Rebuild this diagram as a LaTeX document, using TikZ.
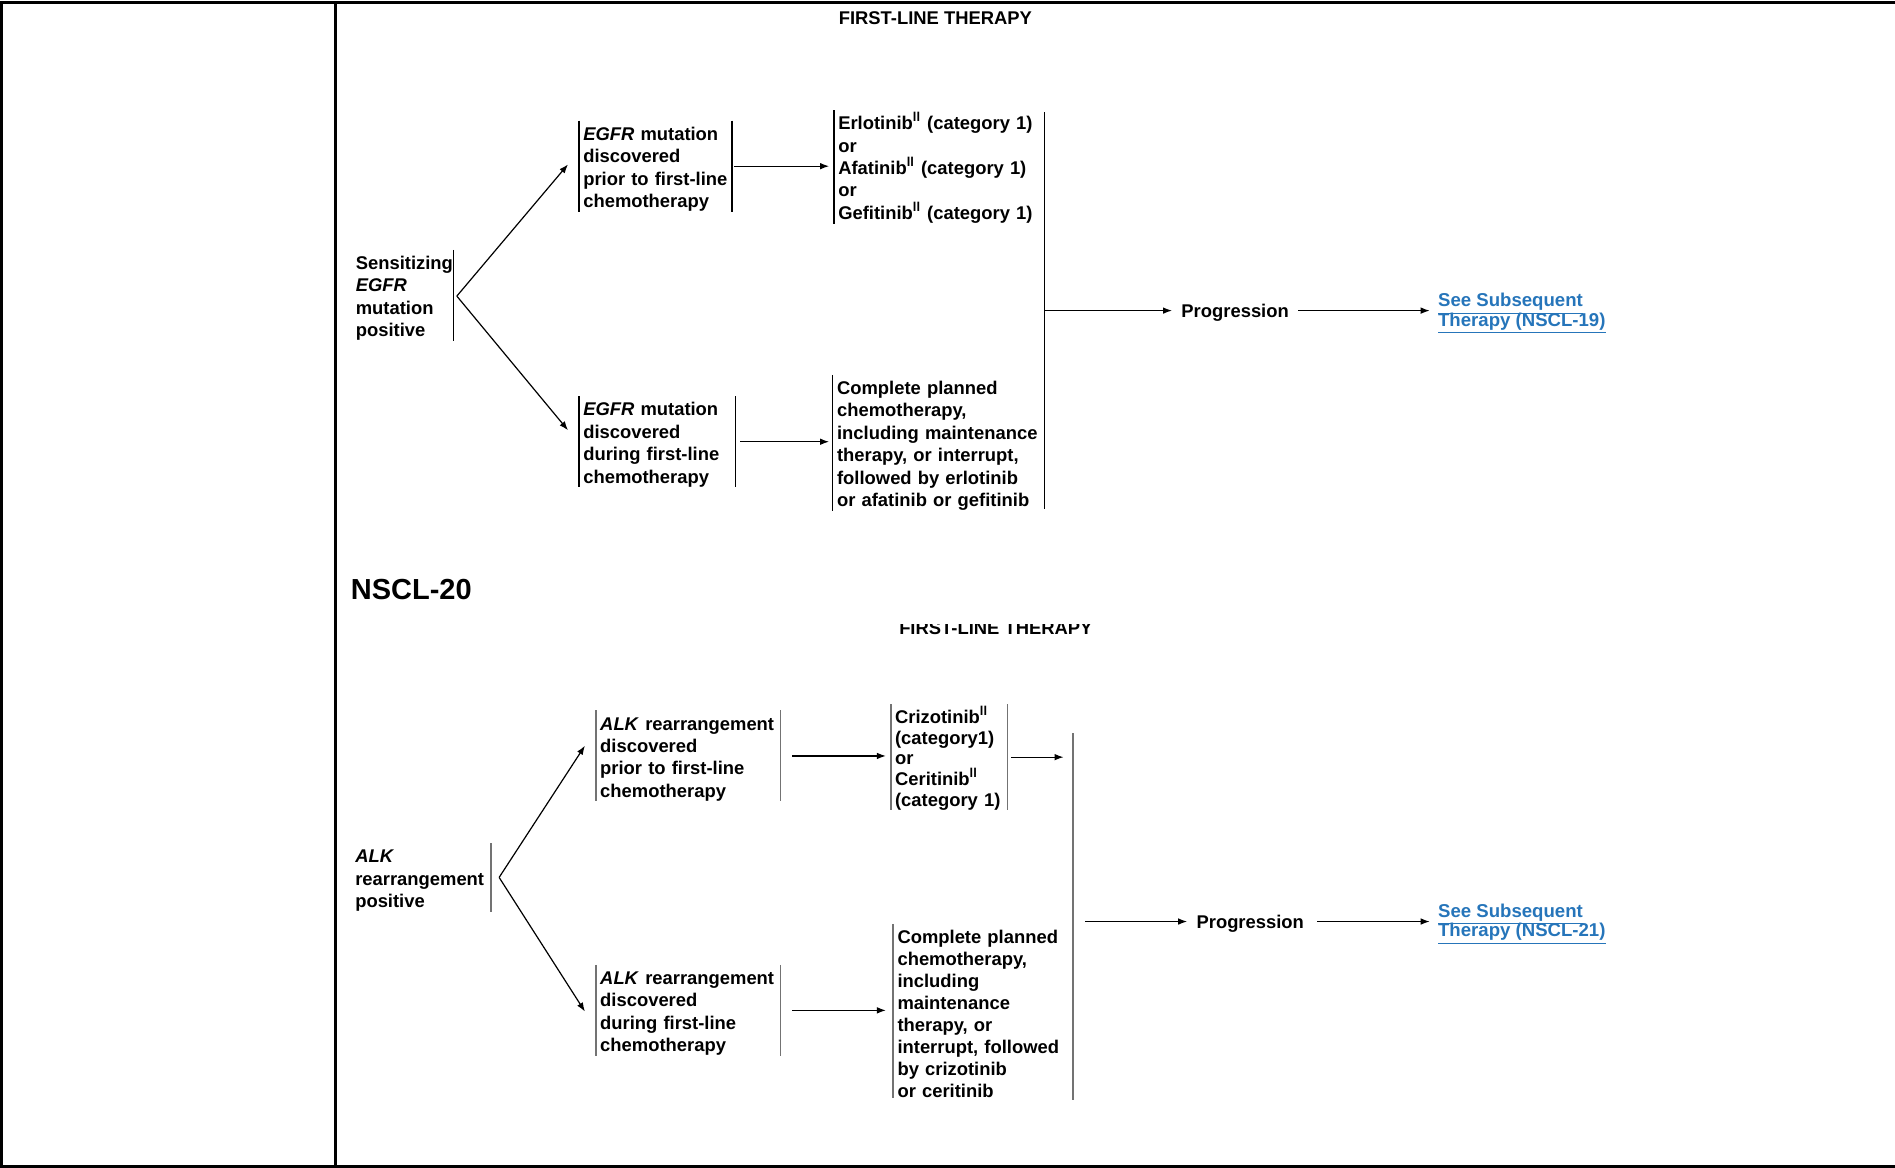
\documentclass[tikz,border=0pt]{standalone}
\usepackage{fontspec}
\setmainfont{Liberation Sans}
\usetikzlibrary{arrows.meta}
\definecolor{nsclLink}{RGB}{38,117,186}

\begin{document}
\begin{tikzpicture}
% NSCL-20 flow chart, drawn in screen units
\def\pxsz{0.6043pt}
\providecommand{\nsclFrameWidth}{1.5pt}
\providecommand{\nsclBarWidth}{0.7pt}
\providecommand{\nsclLineWidth}{0.6pt}
\begin{scope}[x=\pxsz, y=-\pxsz, line cap=butt,
  txt/.style={align=left, inner xsep=2pt, inner ysep=0pt, font=\bfseries\fontsize{9.2}{11.2}\selectfont,
    execute at begin node={\rule{0pt}{9.6pt}}},
  barline/.style={draw=black, line width=\nsclBarWidth},
  lbar/.style={append after command={(\tikzlastnode.north west) edge[barline] (\tikzlastnode.south west)}},
  rbar/.style={append after command={(\tikzlastnode.north east) edge[barline] (\tikzlastnode.south east)}},
  conn/.style={-{Latex[length=4.5pt,width=3.3pt]}, line width=\nsclLineWidth},
  head/.style={inner sep=0pt, font=\bfseries\fontsize{9.2}{10}\selectfont},
  prog/.style={inner xsep=4.5pt, inner ysep=0pt, text height=8.5pt, text depth=2pt, font=\bfseries\fontsize{9.2}{11.2}\selectfont},
  link/.style={align=left, inner xsep=4pt, inner ysep=0pt, text=nsclLink,
    font=\bfseries\fontsize{9.3}{9.7}\selectfont,
    execute at begin node={\setlength{\lineskiplimit}{-10pt}}}]
  \useasboundingbox (0,0) rectangle (1568,966);
  % Table frame
  \draw[line width=\nsclFrameWidth] (0,2) -- (1568,2);
  \draw[line width=\nsclFrameWidth] (0,965) -- (1568,965);
  \draw[line width=\nsclFrameWidth] (1,2) -- (1,965);
  \draw[line width=\nsclFrameWidth] (278,2) -- (278,965);

  % EGFR part
  \node[head] (headA) at (774,15) {FIRST-LINE THERAPY};
  \node[txt, rbar, anchor=east, inner xsep=1pt, text width=47.5pt, minimum height=44.1pt] (sens) at (375,244.5)
    {Sensitizing\\\textit{EGFR}\\mutation\\positive};
  \node[txt, lbar, rbar, anchor=west, text width=72.1pt, minimum height=44.1pt] (egfrA) at (479,137.5)
    {\textit{EGFR} mutation\\discovered\\prior to first-line\\chemotherapy};
  \node[txt, lbar, rbar, anchor=west, text width=74pt, minimum height=42.9pt] (egfrB) at (479,365.5)
    {\textit{EGFR} mutation\\discovered\\during first-line\\chemotherapy};
  \node[txt, lbar, anchor=west, text width=100pt, minimum height=54.4pt] (drugA) at (690,138)
    {Erlotinib\textsuperscript{ll} (category 1)\\or\\Afatinib\textsuperscript{ll} (category 1)\\or\\Gefitinib\textsuperscript{ll} (category 1)};
  \node[txt, lbar, anchor=west, text width=102pt, minimum height=65.9pt] (compA) at (689,366.5)
    {Complete planned\\chemotherapy,\\including maintenance\\therapy, or interrupt,\\followed by erlotinib\\or afatinib or gefitinib};
  \node[lbar, anchor=west, inner sep=0pt, minimum height=198.2pt] (trunkA) at (864,257) {};
  \node[prog] (progA) at (1022,257) {Progression};
  \node[link, anchor=west] (linkA) at (1183,259.5)
    {\underline{See Subsequent}\\\underline{Therapy (NSCL-19)}};

  \draw[conn] ([shift={(3,0.5)}]sens.east) -- ([shift={(-9,-1.5)}]egfrA.west);
  \draw[conn] ([shift={(3,0.5)}]sens.east) -- ([shift={(-9,-9.5)}]egfrB.west);
  \draw[conn, shorten <=1.2pt, shorten >=2.4pt] (egfrA.east) -- (egfrA.east -| drugA.west);
  \draw[conn, shorten <=2.4pt, shorten >=1.8pt] (egfrB.east) -- (egfrB.east -| compA.west);
  \draw[conn] (trunkA.west) -- (progA.west);
  \draw[conn] (progA.east) -- (progA.east -| linkA.west);

  \node[anchor=west, inner sep=0pt, font=\bfseries\fontsize{14.5}{17}\selectfont] (pageid) at (290,488) {NSCL-20};

  % ALK part
  \begin{scope}
    \clip (700,516.5) rectangle (950,535);
    \node[head] (headB) at (824,519.5) {FIRST-LINE THERAPY};
  \end{scope}
  \begin{scope}[barline/.append style={draw=black!55, line width=0.9pt}]
    \node[txt, rbar, anchor=east, text width=65.5pt, minimum height=32.6pt] (alk) at (406,726)
      {\textit{ALK}\\rearrangement\\positive};
    \node[txt, lbar, rbar, anchor=west, text width=87.9pt, minimum height=44.1pt] (alkA) at (493,625.5)
      {\textit{ALK} rearrangement\\discovered\\prior to first-line\\chemotherapy};
    \node[txt, lbar, rbar, anchor=west, text width=87.9pt, minimum height=43.5pt] (alkB) at (493,836)
      {\textit{ALK} rearrangement\\discovered\\during first-line\\chemotherapy};
    \node[txt, lbar, rbar, anchor=west, text width=54pt, minimum height=50.2pt,
      font=\bfseries\fontsize{9.2}{10.3}\selectfont] (crizo) at (737,626.5)
      {Crizotinib\textsuperscript{ll}\\(category1)\\or\\Ceritinib\textsuperscript{ll}\\(category 1)};
    \node[txt, lbar, anchor=west, text width=86pt, minimum height=86.4pt,
      font=\bfseries\fontsize{9.2}{11}\selectfont] (compB) at (739,836.5)
      {Complete planned\\chemotherapy,\\including\\maintenance\\therapy, or\\interrupt, followed\\by crizotinib\\or ceritinib};
    \node[lbar, anchor=west, inner sep=0pt, minimum height=183.1pt] (trunkB) at (888,758.5) {};
  \end{scope}
  \node[prog] (progB) at (1034.5,762.5) {Progression};
  \node[link, anchor=west] (linkB) at (1183,764.5)
    {\underline{See Subsequent}\\\underline{Therapy (NSCL-21)}};

  \draw[conn] ([shift={(7,0)}]alk.east) -- ([shift={(-9,-8.5)}]alkA.west);
  \draw[conn] ([shift={(7,0)}]alk.east) -- ([shift={(-9,1)}]alkB.west);
  \draw[conn, shorten <=6pt, shorten >=2.4pt] (alkA.east) -- (alkA.east -| crizo.west);
  \draw[conn, shorten <=6pt, shorten >=3.6pt] (alkB.east) -- (alkB.east -| compB.west);
  \draw[conn, shorten <=1.8pt, shorten >=4.8pt] (crizo.east) -- (crizo.east -| trunkB.west);
  \draw[conn, shorten <=6pt] (trunkB.west |- progB.west) -- (progB.west);
  \draw[conn, shorten <=2pt] (progB.east) -- (progB.east -| linkB.west);
\end{scope}
\end{tikzpicture}
\end{document}
